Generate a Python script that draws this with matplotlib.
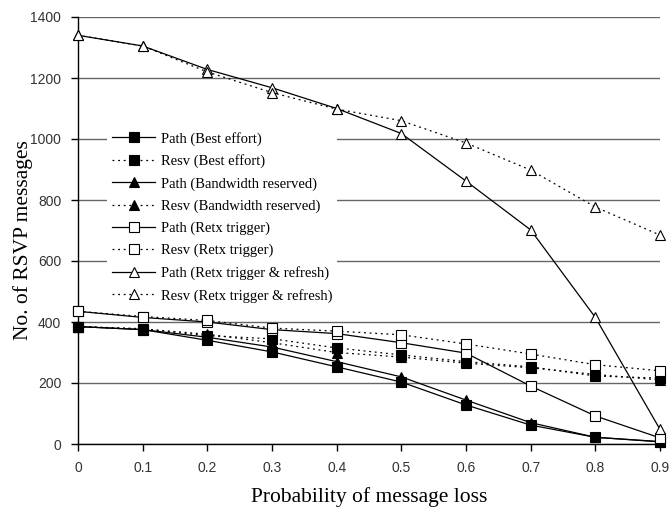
import matplotlib
matplotlib.use('Agg')
import matplotlib.pyplot as plt
import matplotlib.ticker as ticker

# Probability of message loss
loss = [0, 0.1, 0.2, 0.3, 0.4, 0.5, 0.6, 0.7, 0.8, 0.9]

# No. of RSVP messages
path_best = [385, 375, 340, 302, 253, 203, 128, 62, 22, 7]
resv_best = [385, 378, 355, 345, 315, 292, 270, 253, 223, 216]
path_bw = [385, 375, 350, 318, 270, 220, 144, 70, 22, 8]
resv_bw = [385, 377, 360, 332, 300, 285, 265, 250, 228, 210]
path_retx = [435, 415, 400, 375, 362, 332, 298, 190, 92, 20]
resv_retx = [435, 418, 405, 380, 370, 358, 328, 295, 260, 240]
path_refresh = [1340, 1305, 1228, 1168, 1100, 1018, 862, 702, 415, 48]
resv_refresh = [1340, 1305, 1220, 1152, 1098, 1060, 987, 898, 777, 685]

yticks = [0, 200, 400, 600, 800, 1000, 1200, 1400]
xticks = loss

serif = 'Liberation Serif'
sans = 'Liberation Sans'
dots = (0, (1.5, 3))

fig = plt.figure(figsize=(6.7, 5.13), dpi=100)
ax = fig.add_axes([78 / 670, 1 - 444 / 513, 582 / 670, 427 / 513])

series = [
    (path_best, 'Path (Best effort)', '-', 's', 'black'),
    (resv_best, 'Resv (Best effort)', dots, 's', 'black'),
    (path_bw, 'Path (Bandwidth reserved)', '-', '^', 'black'),
    (resv_bw, 'Resv (Bandwidth reserved)', dots, '^', 'black'),
    (path_retx, 'Path (Retx trigger)', '-', 's', 'white'),
    (resv_retx, 'Resv (Retx trigger)', dots, 's', 'white'),
    (path_refresh, 'Path (Retx trigger & refresh)', '-', '^', 'white'),
    (resv_refresh, 'Resv (Retx trigger & refresh)', dots, '^', 'white'),
]
for ys, label, ls, mk, face in series:
    ax.plot(loss, ys, linestyle=ls, color='black', linewidth=0.9,
            marker=mk, markersize=7, markerfacecolor=face,
            markeredgecolor='black', markeredgewidth=0.8, label=label,
            clip_on=False, zorder=3)

ax.set_xlim(0, 0.9)
ax.set_ylim(0, 1400)
ax.set_xticks(xticks)
ax.set_yticks(yticks)
ax.xaxis.set_major_formatter(ticker.FuncFormatter(lambda v, p: '0' if v == 0 else f'{v:.1f}'))
ax.tick_params(axis='both', direction='out', length=5, width=1, color='black',
               labelsize=10, labelcolor='#333333', pad=7)
for lab in ax.get_xticklabels() + ax.get_yticklabels():
    lab.set_family(sans)

ax.yaxis.grid(True, color='#666666', linewidth=1)
ax.set_axisbelow(True)
ax.spines['top'].set_visible(False)
ax.spines['right'].set_visible(False)
ax.spines['left'].set_linewidth(1)
ax.spines['bottom'].set_linewidth(1)

ax.set_xlabel('Probability of message loss', fontfamily=serif, fontsize=15.5, labelpad=9)
ax.set_ylabel('No. of RSVP messages', fontfamily=serif, fontsize=15.5)
ax.yaxis.set_label_coords(-0.077, 0.478)

leg = ax.legend(loc='upper left', bbox_to_anchor=(100 / 670, 1 - 120 / 513),
                bbox_transform=fig.transFigure, prop={'family': serif, 'size': 10.5},
                handlelength=3.0, handletextpad=0.4, labelspacing=0.6,
                frameon=True, fancybox=False, borderpad=0.3)
leg.get_frame().set_facecolor('white')
leg.get_frame().set_edgecolor('none')
leg.get_frame().set_alpha(1)
leg.set_zorder(2)

plt.savefig('out.png', dpi=100)
plt.close()
